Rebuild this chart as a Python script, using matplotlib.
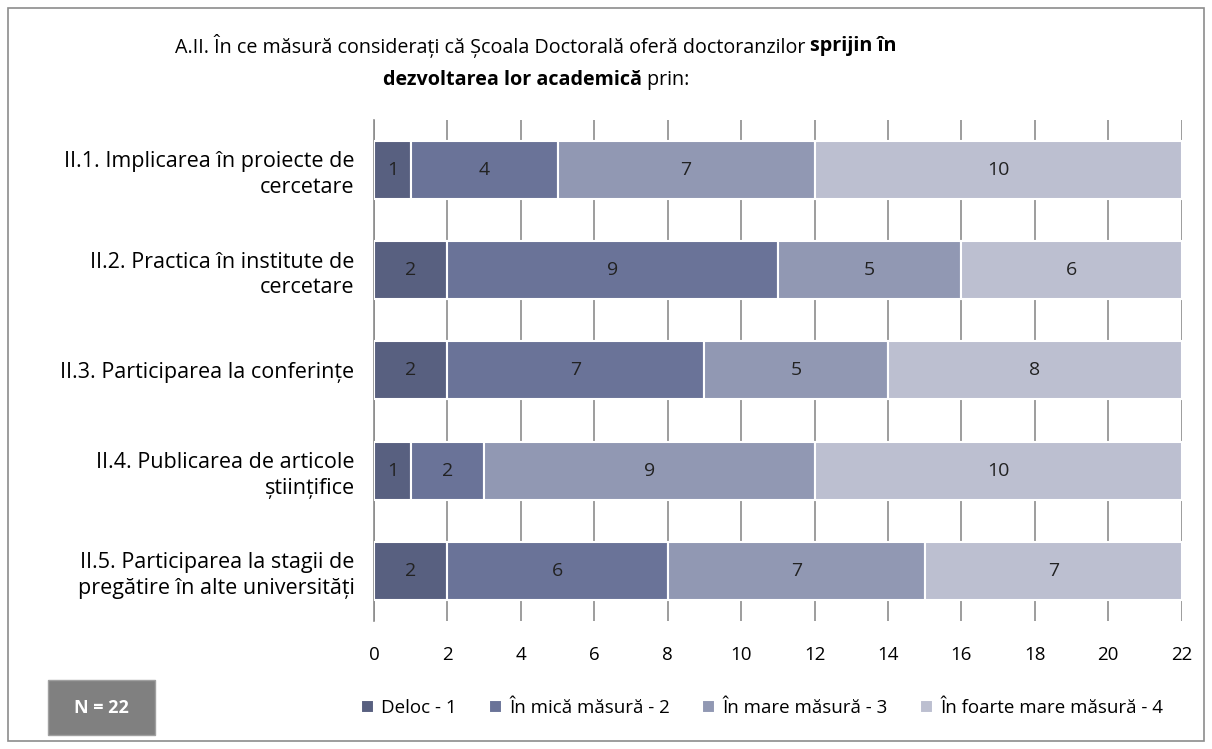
import numpy as np
import matplotlib.pyplot as plt
from matplotlib.patches import Rectangle

plt.rcParams['font.family'] = ['Open Sans', 'DejaVu Sans']

categories = ['II.1. Implicarea în proiecte de\ncercetare',
              'II.2. Practica în institute de\ncercetare',
              'II.3. Participarea la conferințe',
              'II.4. Publicarea de articole\nștiințifice',
              'II.5. Participarea la stagii de\npregătire în alte universități']
deloc = [1, 2, 2, 1, 2]
mica = [4, 9, 7, 2, 6]
mare = [7, 5, 5, 9, 7]
foarte = [10, 6, 8, 10, 7]
series_names = ['Deloc - 1', 'În mică măsură - 2', 'În mare măsură - 3', 'În foarte mare măsură - 4']
colors = ['#586080', '#6a7398', '#9198b3', '#bcbfd0']
xticks = list(range(0, 23, 2))

fig = plt.figure(figsize=(12.12, 7.49), dpi=100)
ax = fig.add_axes([0.3086, 0.171, 0.6664, 0.669])

y = np.arange(len(categories))
left = np.zeros(len(categories))
handles = []
for vals, name, c in zip([deloc, mica, mare, foarte], series_names, colors):
    vals = np.array(vals)
    bars = ax.barh(y, vals, left=left, height=0.58, color=c, edgecolor='white',
                   linewidth=1.5, label=name, zorder=3)
    handles.append(bars)
    for yi, l, v in zip(y, left, vals):
        ax.text(l + v / 2, yi, str(v), ha='center', va='center', fontsize=14,
                color='#222222', zorder=4)
    left += vals

ax.set_xlim(0, 22)
ax.set_ylim(len(categories) - 0.5, -0.5)
ax.set_xticks(xticks)
ax.set_xticklabels([str(t) for t in xticks], fontsize=13.5)
ax.set_yticks(y)
ax.set_yticklabels(categories, fontsize=15.5, linespacing=1.3)
ax.tick_params(axis='x', length=0, pad=18)
ax.tick_params(axis='y', length=0, pad=14)
ax.xaxis.grid(True, color='#8c8c8c', linewidth=1.2, zorder=0)
ax.set_axisbelow(True)
for s in ['top', 'right', 'bottom']:
    ax.spines[s].set_visible(False)
ax.spines['left'].set_color('#8c8c8c')
ax.spines['left'].set_linewidth(1.2)

# title with mixed bold, centered at x ~ 536 px
fig.canvas.draw()
renderer = fig.canvas.get_renderer()
W, H = fig.bbox.width, fig.bbox.height
cx = 536 / W

def mixed_line(parts, ypix):
    texts = []
    for s, w in parts:
        t = fig.text(0, 1 - ypix / H, s, fontsize=14.2, fontweight=w, va='center', ha='left')
        texts.append(t)
    widths = [t.get_window_extent(renderer).width for t in texts]
    x = cx * W - sum(widths) / 2
    for t, w in zip(texts, widths):
        t.set_x(x / W)
        x += w

mixed_line([('A.II. În ce măsură considerați că Școala Doctorală oferă doctoranzilor ', 'normal'),
            ('sprijin în', 'bold')], 46)
mixed_line([('dezvoltarea lor academică', 'bold'), (' prin:', 'normal')], 80)

fig.legend(handles=handles, labels=series_names, loc='center', bbox_to_anchor=(762 / W, 1 - 708 / H),
           ncol=4, frameon=False, fontsize=13.5, handlelength=0.7, handleheight=0.7,
           handletextpad=0.4, columnspacing=1.7)

# N = 22 box
fig.patches.append(Rectangle((48 / W, 1 - 735 / H), 107 / W, 55 / H, transform=fig.transFigure,
                             facecolor='#808080', edgecolor='#a0a0a0', linewidth=1))
fig.text(101 / W, 1 - 708 / H, 'N = 22', color='white', fontsize=13, fontweight='bold',
         ha='center', va='center')

# outer border
fig.patches.append(Rectangle((8 / W, 8 / H), 1196 / W, 733 / H, transform=fig.transFigure,
                             facecolor='none', edgecolor='#8c8c8c', linewidth=1.2))

fig.savefig('out.png', dpi=100)
